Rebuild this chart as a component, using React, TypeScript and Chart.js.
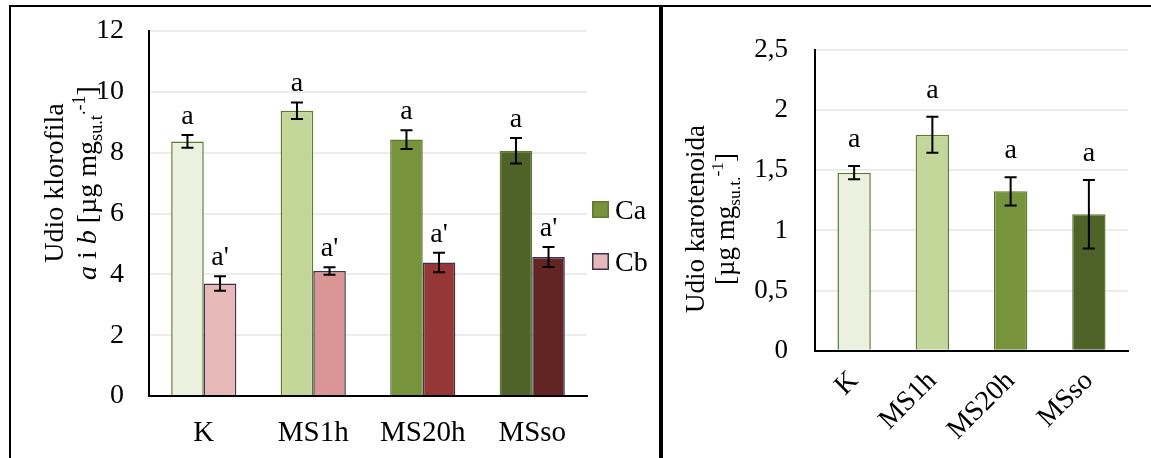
import React, { useEffect, useRef } from "react";
import { Chart, registerables } from "chart.js";

Chart.register(...registerables);

const SERIF = "'Liberation Serif', 'Times New Roman', serif";
Chart.defaults.font.family = SERIF;
Chart.defaults.color = "#000";

// ---- data ----
const treatments = ["K", "MS1h", "MS20h", "MSso"];

const chlA = [8.37, 9.38, 8.43, 8.06];
const chlAErr = [0.21, 0.27, 0.31, 0.42];
const chlALetters = ["a", "a", "a", "a"];

const chlB = [3.7, 4.11, 4.39, 4.57];
const chlBErr = [0.24, 0.12, 0.32, 0.33];
const chlBLetters = ["a'", "a'", "a'", "a'"];

const carot = [1.48, 1.795, 1.325, 1.135];
const carotErr = [0.055, 0.15, 0.117, 0.285];
const carotLetters = ["a", "a", "a", "a"];

const chlTicks = ["0", "2", "4", "6", "8", "10", "12"];
const carotTicks = ["0", "0,5", "1", "1,5", "2", "2,5"];

const seriesNames = ["Ca", "Cb"];

// ---- colours ----
const greens = ["#EBF1DE", "#C4D79B", "#77933C", "#4F6228"];
const reds = ["#E6B8B7", "#DA9694", "#953735", "#632523"];
const greenEdge = "#5D7A2F";
const redEdge = "#403152";
const gridColor = "#ECECEC";

type Seg = { t: string; it?: boolean; sub?: boolean; sup?: boolean };

// Error bars plus significance letters above each bar
const errorBarPlugin = {
  id: "errorBars",
  afterDatasetsDraw(chart: any, _args: any, opts: any) {
    const { ctx } = chart;
    const y = chart.scales.y;
    chart.data.datasets.forEach((ds: any, di: number) => {
      const errs = opts.errors[di];
      const letters = opts.letters[di];
      const meta = chart.getDatasetMeta(di);
      meta.data.forEach((bar: any, i: number) => {
        const v = ds.data[i];
        const e = errs[i];
        const top = y.getPixelForValue(v + e);
        const bot = y.getPixelForValue(v - e);
        const x = bar.x;
        const cap = opts.cap / 2;
        ctx.save();
        ctx.strokeStyle = "#000";
        ctx.lineWidth = 2;
        ctx.beginPath();
        ctx.moveTo(x, top);
        ctx.lineTo(x, bot);
        ctx.moveTo(x - cap, top);
        ctx.lineTo(x + cap, top);
        ctx.moveTo(x - cap, bot);
        ctx.lineTo(x + cap, bot);
        ctx.stroke();
        ctx.fillStyle = "#000";
        ctx.font = `${opts.letterSize}px ${SERIF}`;
        ctx.textAlign = "center";
        ctx.textBaseline = "alphabetic";
        ctx.fillText(letters[i], x, top - opts.gap);
        ctx.restore();
      });
    });
  },
};

function drawRichLine(ctx: CanvasRenderingContext2D, segs: Seg[], size: number) {
  const small = size * 0.65;
  const fontOf = (s: Seg) =>
    `${s.it ? "italic " : ""}${s.sub || s.sup ? small : size}px ${SERIF}`;
  const widths = segs.map((s) => {
    ctx.font = fontOf(s);
    return ctx.measureText(s.t).width;
  });
  const total = widths.reduce((a, b) => a + b, 0);
  let x = -total / 2;
  segs.forEach((s, i) => {
    ctx.font = fontOf(s);
    const dy = s.sub ? size * 0.22 : s.sup ? -size * 0.4 : 0;
    ctx.fillText(s.t, x, dy);
    x += widths[i];
  });
}

// Rotated y-axis title with italics, subscripts and superscripts
const yTitlePlugin = {
  id: "yTitle",
  afterDraw(chart: any, _args: any, opts: any) {
    const { ctx } = chart;
    opts.lines.forEach((segs: Seg[], i: number) => {
      ctx.save();
      ctx.translate(opts.baselines[i], opts.centerY);
      ctx.rotate(-Math.PI / 2);
      ctx.fillStyle = "#000";
      ctx.textAlign = "left";
      ctx.textBaseline = "alphabetic";
      drawRichLine(ctx, segs, opts.size);
      ctx.restore();
    });
  },
};

// Series key drawn to the right of the plot
const keyPlugin = {
  id: "seriesKey",
  afterDraw(chart: any, _args: any, opts: any) {
    if (!opts || !opts.items) return;
    const { ctx } = chart;
    opts.items.forEach((it: any, i: number) => {
      const top = opts.top + i * opts.step;
      ctx.save();
      ctx.fillStyle = it.fill;
      ctx.strokeStyle = it.edge;
      ctx.lineWidth = 1.5;
      ctx.fillRect(opts.x, top, opts.box, opts.box);
      ctx.strokeRect(opts.x + 0.75, top + 0.75, opts.box - 1.5, opts.box - 1.5);
      ctx.fillStyle = "#000";
      ctx.font = `${opts.size}px ${SERIF}`;
      ctx.textAlign = "left";
      ctx.textBaseline = "middle";
      ctx.fillText(it.label, opts.textX, top + opts.box / 2 + 2);
      ctx.restore();
    });
  },
};

// Fixed axis sizes so the plot area sits exactly where the layout wants it
const fixWidth = (w: number) => (s: any) => {
  s.width = w;
  s.paddingTop = 0;
  s.paddingBottom = 0;
};
const fixHeight = (h: number) => (s: any) => {
  s.height = h;
  s.paddingLeft = 0;
  s.paddingRight = 0;
};

function chlConfig(): any {
  return {
    type: "bar",
    data: {
      labels: treatments,
      datasets: [
        {
          label: seriesNames[0],
          data: chlA,
          backgroundColor: greens,
          borderColor: greenEdge,
          borderWidth: 1.5,
          categoryPercentage: 0.595,
          barPercentage: 1,
        },
        {
          label: seriesNames[1],
          data: chlB,
          backgroundColor: reds,
          borderColor: redEdge,
          borderWidth: 1.5,
          categoryPercentage: 0.595,
          barPercentage: 1,
        },
      ],
    },
    options: {
      responsive: false,
      animation: false,
      layout: { padding: { left: 0, right: 72, top: 24, bottom: 0 } },
      scales: {
        x: {
          grid: { display: false },
          border: { display: true, color: "#000", width: 2 },
          ticks: { font: { size: 29 }, padding: 12, color: "#000", maxRotation: 0 },
          afterFit: fixHeight(62),
        },
        y: {
          min: 0,
          max: 12,
          ticks: {
            stepSize: 2,
            font: { size: 28 },
            padding: 25,
            color: "#000",
            callback: (_v: any, i: number) => chlTicks[i],
          },
          grid: { color: gridColor, lineWidth: 2, drawTicks: false },
          border: { display: true, color: "#000", width: 2 },
          afterFit: fixWidth(138),
        },
      },
      plugins: {
        legend: { display: false },
        tooltip: { enabled: false },
        errorBars: {
          errors: [chlAErr, chlBErr],
          letters: [chlALetters, chlBLetters],
          cap: 12,
          gap: 11,
          letterSize: 28,
        },
        yTitle: {
          size: 28,
          centerY: 176,
          baselines: [52, 85],
          lines: [
            [{ t: "Udio klorofila" }],
            [
              { t: "a", it: true },
              { t: " i " },
              { t: "b", it: true },
              { t: " [µg mg" },
              { t: "su.t", sub: true },
              { t: ".-1", sup: true },
              { t: "]" },
            ],
          ],
        },
        seriesKey: {
          x: 581,
          top: 194,
          step: 52,
          box: 17,
          textX: 604,
          size: 28,
          items: [
            { label: seriesNames[0], fill: greens[2], edge: greenEdge },
            { label: seriesNames[1], fill: reds[0], edge: redEdge },
          ],
        },
      },
    },
    plugins: [errorBarPlugin, yTitlePlugin, keyPlugin],
  };
}

function carotConfig(): any {
  return {
    type: "bar",
    data: {
      labels: treatments,
      datasets: [
        {
          label: "Karotenoidi",
          data: carot,
          backgroundColor: greens,
          borderColor: greenEdge,
          borderWidth: 1.5,
          categoryPercentage: 0.426,
          barPercentage: 1,
        },
      ],
    },
    options: {
      responsive: false,
      animation: false,
      layout: { padding: { left: 0, right: 23, top: 43, bottom: 0 } },
      scales: {
        x: {
          grid: { display: false },
          border: { display: true, color: "#000", width: 2 },
          ticks: { font: { size: 28 }, padding: 6, color: "#000", minRotation: 45, maxRotation: 45 },
          afterFit: fixHeight(107.3),
        },
        y: {
          min: 0,
          max: 2.5,
          ticks: {
            stepSize: 0.5,
            font: { size: 27 },
            padding: 27,
            color: "#000",
            callback: (_v: any, i: number) => carotTicks[i],
          },
          grid: { color: gridColor, lineWidth: 2, drawTicks: false },
          border: { display: true, color: "#000", width: 2 },
          afterFit: fixWidth(152),
        },
      },
      plugins: {
        legend: { display: false },
        tooltip: { enabled: false },
        errorBars: {
          errors: [carotErr],
          letters: [carotLetters],
          cap: 12,
          gap: 19,
          letterSize: 28,
        },
        yTitle: {
          size: 27,
          centerY: 212,
          baselines: [41, 71],
          lines: [
            [{ t: "Udio karotenoida" }],
            [{ t: "[µg mg" }, { t: "su.t.", sub: true }, { t: "-1", sup: true }, { t: "]" }],
          ],
        },
      },
    },
    plugins: [errorBarPlugin, yTitlePlugin],
  };
}

function ChartCanvas(props: { make: () => any; left: number; top: number; width: number; height: number }) {
  const ref = useRef<HTMLCanvasElement>(null);
  useEffect(() => {
    const chart = new Chart(ref.current as HTMLCanvasElement, props.make());
    return () => chart.destroy();
  }, []);
  return (
    <canvas
      ref={ref}
      width={props.width}
      height={props.height}
      style={{
        position: "absolute",
        left: props.left,
        top: props.top,
        width: props.width,
        height: props.height,
        display: "block",
      }}
    />
  );
}

export default function App() {
  return (
    <div
      style={{
        position: "fixed",
        left: 0,
        top: 0,
        width: 1151,
        height: 458,
        background: "#fff",
        overflow: "hidden",
      }}
    >
      <div style={{ position: "absolute", left: 9, top: 5, width: 1142, height: 2, background: "#000" }} />
      <div style={{ position: "absolute", left: 9, top: 5, width: 2, height: 453, background: "#000" }} />
      <div style={{ position: "absolute", left: 659, top: 5, width: 4, height: 453, background: "#000" }} />
      <ChartCanvas make={chlConfig} left={11} top={7} width={648} height={451} />
      <ChartCanvas make={carotConfig} left={663} top={7} width={488} height={451} />
    </div>
  );
}
